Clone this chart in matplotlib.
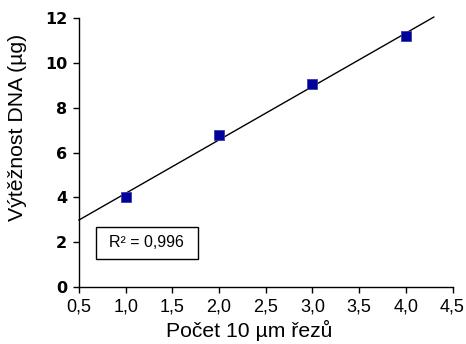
import matplotlib
matplotlib.use("Agg")
import matplotlib.pyplot as plt
from matplotlib.patches import Rectangle
import numpy as np

x_vals = [1, 2, 3, 4]
y_vals = [4.0, 6.8, 9.05, 11.2]
x_ticks = [0.5, 1.0, 1.5, 2.0, 2.5, 3.0, 3.5, 4.0, 4.5]
x_ticklabels = ["0,5", "1,0", "1,5", "2,0", "2,5", "3,0", "3,5", "4,0", "4,5"]
y_ticks = [0, 2, 4, 6, 8, 10, 12]
trend_range = [0.5, 4.3]
r2_text = "R² = 0,996"

plt.rcParams['font.family'] = ['Liberation Sans', 'DejaVu Sans']
fig = plt.figure(figsize=(4.66, 3.44), dpi=100)
ax = fig.add_axes([79/466, 1-287/344, (452.5-79)/466, (287-18.3)/344])

slope, intercept = np.polyfit(x_vals, y_vals, 1)
xt = np.array(trend_range)
ax.plot(xt, slope*xt + intercept, color='black', lw=1.0, clip_on=False, zorder=2)
ax.plot(x_vals, y_vals, 's', color='#00009C', markeredgecolor='#3a3aa8',
        markeredgewidth=0.6, markersize=6.8, zorder=3, clip_on=False)

ax.set_xlim(0.5, 4.5)
ax.set_ylim(0, 12)
ax.set_xticks(x_ticks)
ax.set_xticklabels(x_ticklabels)
ax.set_yticks(y_ticks)
for s in ['top', 'right']:
    ax.spines[s].set_visible(False)
for s in ['left', 'bottom']:
    ax.spines[s].set_linewidth(1.0)
ax.tick_params(direction='out', length=4.5, width=1.0, pad=4)
ax.tick_params(axis='x', labelsize=13)
ax.tick_params(axis='y', labelsize=11.5)
for lab in ax.get_yticklabels():
    lab.set_fontfamily('DejaVu Sans')
    lab.set_fontweight('bold')
ax.set_xlabel("Počet 10 µm řezů", fontsize=15.2)
ax.xaxis.set_label_coords(249.5/466, 1-320/344, transform=fig.transFigure)
ax.set_ylabel("Výtěžnost DNA (µg)", fontsize=15.3)
ax.yaxis.set_label_coords(27/466, 1-127.5/344, transform=fig.transFigure)

rect = Rectangle((95.5/466, 1-258.5/344), (197.5-95.5)/466, (258.5-226.5)/344,
                 transform=fig.transFigure, fc='white', ec='black', lw=1.0)
fig.patches.append(rect)
fig.text(146.5/466, 1-242.5/344, r2_text, ha='center', va='center', fontsize=11.5)

fig.savefig("out.png", dpi=100)
